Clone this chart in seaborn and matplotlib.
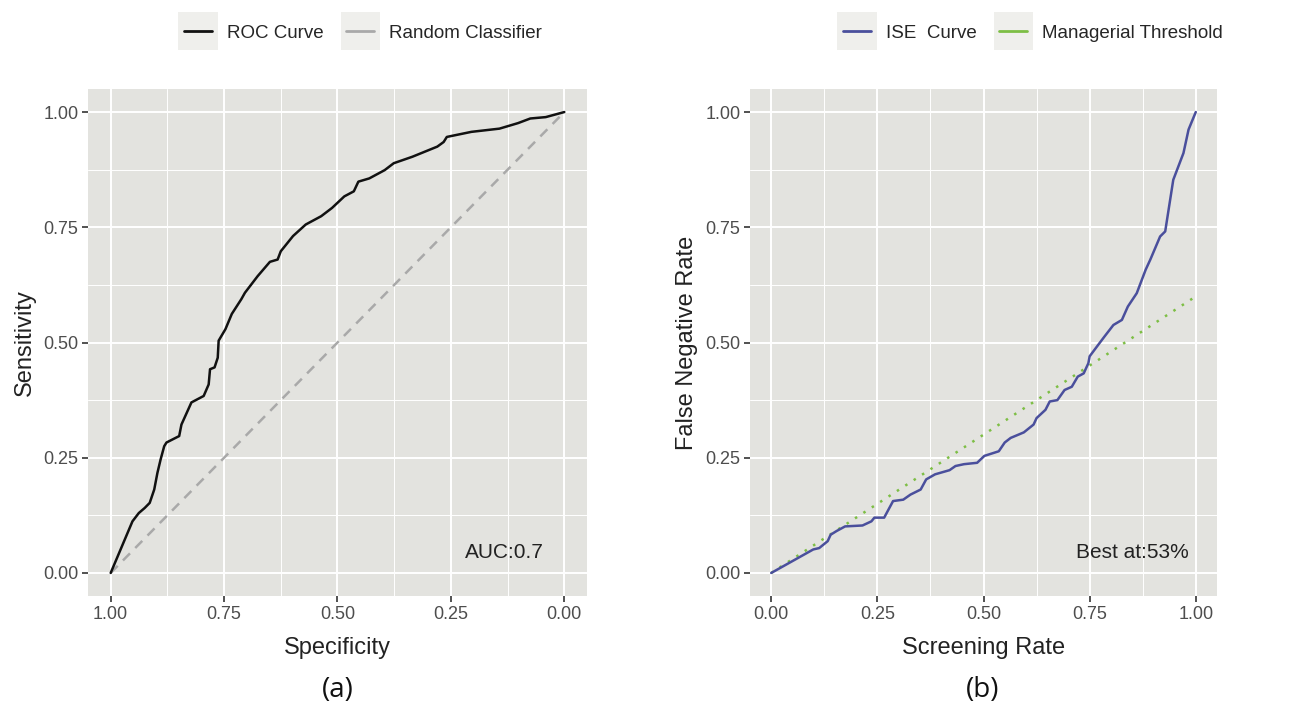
import numpy as np
import pandas as pd
import matplotlib
matplotlib.use("Agg")
import matplotlib.pyplot as plt
import seaborn as sns
from matplotlib.lines import Line2D
from matplotlib.patches import Rectangle
from matplotlib.legend_handler import HandlerLine2D

# ---------------- data ----------------
roc_fpr = [0.0, 0.048, 0.062, 0.075, 0.086, 0.096, 0.103, 0.110, 0.118, 0.123, 0.151,
           0.156, 0.178, 0.205, 0.216, 0.219, 0.229, 0.236, 0.238, 0.253, 0.267, 0.288,
           0.296, 0.324, 0.351, 0.368, 0.375, 0.402, 0.430, 0.464, 0.488, 0.515, 0.536,
           0.546, 0.570, 0.604, 0.624, 0.665, 0.720, 0.734, 0.741, 0.795, 0.857, 0.898,
           0.925, 0.959, 1.0]
roc_sens = [0.0, 0.112, 0.130, 0.141, 0.152, 0.181, 0.217, 0.246, 0.275, 0.283, 0.297,
            0.322, 0.370, 0.384, 0.409, 0.442, 0.446, 0.467, 0.504, 0.529, 0.562, 0.594,
            0.608, 0.644, 0.675, 0.680, 0.698, 0.731, 0.756, 0.774, 0.792, 0.817, 0.828,
            0.849, 0.856, 0.874, 0.889, 0.903, 0.925, 0.935, 0.946, 0.957, 0.964, 0.976,
            0.986, 0.989, 1.0]
roc_spec = [1 - v for v in roc_fpr]

rand_spec = [1.0, 0.0]
rand_sens = [0.0, 1.0]

ise_rate = [0.0, 0.099, 0.113, 0.133, 0.140, 0.154, 0.174, 0.215, 0.236, 0.243, 0.266,
            0.287, 0.311, 0.328, 0.352, 0.365, 0.386, 0.420, 0.434, 0.454, 0.485, 0.502,
            0.536, 0.550, 0.564, 0.595, 0.618, 0.625, 0.646, 0.656, 0.674, 0.691, 0.708,
            0.722, 0.736, 0.747, 0.750, 0.767, 0.785, 0.806, 0.826, 0.840, 0.861, 0.882,
            0.893, 0.916, 0.928, 0.947, 0.971, 0.983, 1.0]
ise_fnr = [0.0, 0.051, 0.054, 0.069, 0.083, 0.091, 0.101, 0.103, 0.112, 0.120, 0.120,
           0.156, 0.159, 0.170, 0.181, 0.203, 0.214, 0.223, 0.232, 0.236, 0.239, 0.254,
           0.264, 0.283, 0.293, 0.305, 0.322, 0.336, 0.354, 0.372, 0.375, 0.397, 0.404,
           0.426, 0.433, 0.455, 0.470, 0.491, 0.513, 0.538, 0.549, 0.578, 0.607, 0.658,
           0.680, 0.730, 0.741, 0.853, 0.911, 0.962, 1.0]

thr_rate = [0.0, 1.0]
thr_fnr = [0.0, 0.60]

ticks = [0.0, 0.25, 0.5, 0.75, 1.0]
tick_labels = ["0.00", "0.25", "0.50", "0.75", "1.00"]

# ---------------- style ----------------
sns.set_style("white")
plt.rcParams["font.family"] = ["Liberation Sans", "DejaVu Sans"]

PANEL = "#E3E3DF"
ROC_COL = "#111111"
RAND_COL = "#A9A9A9"
ISE_COL = "#4A4F9C"
THR_COL = "#7DBE45"

fig = plt.figure(figsize=(12.99, 7.12), dpi=100)
W, H = 1299, 712
ax1 = fig.add_axes([88 / W, 1 - 596 / H, 499 / W, 507 / H])
ax2 = fig.add_axes([750 / W, 1 - 596 / H, 467 / W, 507 / H])

roc_df = pd.DataFrame({"spec": roc_spec, "sens": roc_sens})
rand_df = pd.DataFrame({"spec": rand_spec, "sens": rand_sens})
ise_df = pd.DataFrame({"rate": ise_rate, "fnr": ise_fnr})
thr_df = pd.DataFrame({"rate": thr_rate, "fnr": thr_fnr})

sns.lineplot(data=rand_df, x="spec", y="sens", ax=ax1, color=RAND_COL, lw=1.8,
             linestyle=(0, (4, 3)), sort=False, estimator=None, zorder=3)
sns.lineplot(data=roc_df, x="spec", y="sens", ax=ax1, color=ROC_COL, lw=1.8,
             sort=False, estimator=None, zorder=4)

sns.lineplot(data=thr_df, x="rate", y="fnr", ax=ax2, color=THR_COL, lw=1.8,
             linestyle=(0, (1, 3)), sort=False, estimator=None, zorder=3)
sns.lineplot(data=ise_df, x="rate", y="fnr", ax=ax2, color=ISE_COL, lw=1.8,
             sort=False, estimator=None, zorder=4)


def style_axis(ax, xlabel, ylabel, reverse=False):
    ax.set_facecolor(PANEL)
    for s in ax.spines.values():
        s.set_visible(False)
    if reverse:
        ax.set_xlim(1.05, -0.05)
    else:
        ax.set_xlim(-0.05, 1.05)
    ax.set_ylim(-0.05, 1.05)
    ax.set_xticks(ticks)
    ax.set_xticklabels(tick_labels)
    ax.set_yticks(ticks)
    ax.set_yticklabels(tick_labels)
    ax.set_xticks([0.125, 0.375, 0.625, 0.875], minor=True)
    ax.set_yticks([0.125, 0.375, 0.625, 0.875], minor=True)
    ax.grid(True, which="major", color="white", lw=1.4, zorder=0)
    ax.grid(True, which="minor", color="white", lw=0.7, zorder=0)
    ax.set_axisbelow(True)
    ax.tick_params(which="major", length=4, width=1.2, color="#333333",
                   labelsize=13, labelcolor="#4D4D4D", pad=3, direction="out")
    ax.tick_params(which="minor", length=0)
    ax.tick_params(axis="x", bottom=True)
    ax.tick_params(axis="y", left=True)
    ax.set_xlabel(xlabel, fontsize=17, color="#222222", labelpad=10)
    ax.set_ylabel(ylabel, fontsize=17, color="#222222", labelpad=5)


style_axis(ax1, "Specificity", "Sensitivity", reverse=True)
style_axis(ax2, "Screening Rate", "False Negative Rate")

ax1.text(0.133, 0.045, "AUC:0.7", fontsize=15, color="#222222", ha="center", va="center")
ax2.text(0.85, 0.045, "Best at:53%", fontsize=15, color="#222222", ha="center", va="center")

fig.text(338 / W, 1 - 690 / H, "(a)", fontsize=20, family="Open Sans",
         ha="center", va="center", color="#111111")
fig.text(983 / W, 1 - 690 / H, "(b)", fontsize=20, family="Open Sans",
         ha="center", va="center", color="#111111")


class KeyHandler(HandlerLine2D):
    def create_artists(self, legend, orig_handle, xdescent, ydescent, width,
                       height, fontsize, trans):
        rect = Rectangle((-xdescent - 4, -ydescent - 9), width + 8, height + 18,
                         facecolor="#EFEFEC", edgecolor="none", transform=trans)
        arts = super().create_artists(legend, orig_handle, xdescent, ydescent,
                                      width, height, fontsize, trans)
        return [rect] + list(arts)


def add_legend(center_x, labels, colors):
    handles = [Line2D([0], [0], color=c, lw=2) for c in colors]
    fig.legend(handles, labels, loc="center", bbox_to_anchor=(center_x / W, 1 - 33 / H),
               ncol=2, frameon=False, fontsize=13.5, handlelength=1.5,
               handletextpad=0.8, columnspacing=1.2,
               handler_map={Line2D: KeyHandler()})


add_legend(363, ["ROC Curve", "Random Classifier"], [ROC_COL, RAND_COL])
add_legend(1033, ["ISE  Curve", "Managerial Threshold"], [ISE_COL, THR_COL])

fig.savefig("out.png", dpi=100, facecolor="white")
